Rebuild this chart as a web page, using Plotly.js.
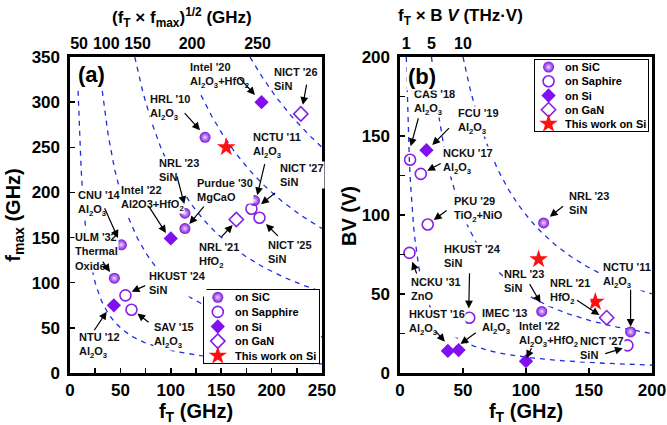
<!DOCTYPE html>
<html><head><meta charset="utf-8">
<script src="https://cdn.plot.ly/plotly-3.0.1.min.js"></script>
<style>html,body{margin:0;padding:0;background:#fff}#chart{width:667px;height:425px}</style>
</head><body><div id="chart"></div>
<script>
// ---------- Panel (a): fT vs fmax (GHz) ----------
const aSiC_names = ["HRL '10", "NRL '23", "Purdue '30", "NCTU '11", "CNU '14", "ULM '32"];
const aSiC_fT    = [134, 114, 114, 183, 51, 44];
const aSiC_fmax  = [261, 177, 160, 191, 142, 105];
const aSap_names = ["NICT '27", "NICT '25", "HKUST '24", "SAV '15"];
const aSap_fT    = [180, 188, 55, 61];
const aSap_fmax  = [182, 172, 86, 70];
const aSi_names  = ["Intel '20", "Intel '22", "NTU '12"];
const aSi_fT     = [190, 100, 43.5];
const aSi_fmax   = [300, 149, 75];
const aGaN_names = ["NICT '26", "NRL '21"];
const aGaN_fT    = [229, 165];
const aGaN_fmax  = [287, 170];
const aThis_fT   = [155];
const aThis_fmax = [250];
// iso-lines sqrt(fT*fmax) = const (GHz) and the fT where each drawn line begins
const aIso       = [50, 100, 150, 200, 250];
const aIsoStart  = [8, 32, 64.3, 130, 178.6];
const aTopTicks  = ['50', '100', '150', '200', '250'];
const aLegendNames = ['on SiC', 'on Sapphire', 'on Si', 'on GaN', 'This work on Si'];

// ---------- Panel (b): fT (GHz) vs BV (V) ----------
const bSiC_fT  = [114, 112.5, 183];
const bSiC_BV  = [95, 39, 26];
const bSap_fT  = [8, 16.5, 22, 7.5, 55, 180.5];
const bSap_BV  = [135, 126, 94, 76, 35, 17.5];
const bSi_fT   = [21, 38, 46.5, 100];
const bSi_BV   = [141, 14, 14.5, 7.5];
const bGaN_fT  = [164];
const bGaN_BV  = [35];
const bThis_fT = [110, 155];
const bThis_BV = [72, 45];
// iso-lines fT*BV = const (THz.V)
const bIso      = [1, 5, 10];
const bTopTicks = ['1', '5', '10'];
const bLegendNames = ['on SiC', 'on Saphire', 'on Si', 'on GaN', 'This work on Si'];

// ---------- styles ----------
const PURPLE = '#8420e8';
const FONT = 'Liberation Sans, Arial, sans-serif';
const BLUE = 'rgb(30,45,225)';

const M = {
  sic:  {symbol: 'circle', size: 11, color: '#7a12dc', gradient: {type: 'radial', color: '#ead6ff'}, line: {width: 0}},
  sap:  {symbol: 'circle-open', size: 11, color: PURPLE, line: {width: 1.6, color: PURPLE}},
  si:   {symbol: 'diamond', size: 11, color: '#8010ee', line: {width: 0}},
  gan:  {symbol: 'diamond-open', size: 11, color: PURPLE, line: {width: 1.6, color: PURPLE}},
  star: {symbol: 'star', size: 14, color: '#ff1010', line: {width: 0}}
};
const legendMarkers = [M.sic, M.sap, M.si, M.gan, M.star];

function isoCurve(c, start, end, xa, ya, f) {
  const xs = [], ys = [];
  const n = 240;
  for (let i = 0; i <= n; i++) {
    const x = start + (end - start) * i / n;
    xs.push(x); ys.push(f(c, x));
  }
  return {x: xs, y: ys, xaxis: xa, yaxis: ya, mode: 'lines', showlegend: false, hoverinfo: 'skip',
          line: {color: BLUE, width: 1.3, dash: '5px,5px'}};
}

const traces = [];
aIso.forEach((c, i) => traces.push(isoCurve(c, aIsoStart[i], 250, 'x', 'y', (k, x) => k * k / x)));
bIso.forEach((c) => traces.push(isoCurve(c, c * 1000 / 200, 200, 'x2', 'y2', (k, x) => k * 1000 / x)));

function pts(name, x, y, m, xa, ya) {
  return {x: x, y: y, name: name, xaxis: xa, yaxis: ya, mode: 'markers', marker: m, showlegend: false, hoverinfo: 'skip'};
}
traces.push(pts('on SiC', aSiC_fT, aSiC_fmax, M.sic, 'x', 'y'));
traces.push(pts('on Sapphire', aSap_fT, aSap_fmax, M.sap, 'x', 'y'));
traces.push(pts('on Si', aSi_fT, aSi_fmax, M.si, 'x', 'y'));
traces.push(pts('on GaN', aGaN_fT, aGaN_fmax, M.gan, 'x', 'y'));
traces.push(pts('This work on Si', aThis_fT, aThis_fmax, M.star, 'x', 'y'));

traces.push(pts('on SiC', bSiC_fT, bSiC_BV, M.sic, 'x2', 'y2'));
traces.push(pts('on Saphire', bSap_fT, bSap_BV, M.sap, 'x2', 'y2'));
traces.push(pts('on Si', bSi_fT, bSi_BV, M.si, 'x2', 'y2'));
traces.push(pts('on GaN', bGaN_fT, bGaN_BV, M.gan, 'x2', 'y2'));
traces.push(pts('This work on Si', bThis_fT, bThis_BV, M.star, 'x2', 'y2'));

// dummy traces so the top axes exist
traces.push({x: [null], y: [null], xaxis: 'x3', yaxis: 'y', showlegend: false, hoverinfo: 'skip', mode: 'markers'});
traces.push({x: [null], y: [null], xaxis: 'x4', yaxis: 'y2', showlegend: false, hoverinfo: 'skip', mode: 'markers'});

const annotations = [];

// compact legend boxes (one small framed subplot per panel): a symbol and a name per row
function legendBox(names, xa, ya) {
  names.forEach((nm, i) => {
    traces.push({x: [0.12], y: [names.length - 1 - i], xaxis: xa, yaxis: ya, mode: 'markers', name: nm,
      marker: legendMarkers[i], showlegend: false, hoverinfo: 'skip', cliponaxis: false});
    annotations.push({text: nm, x: 0.25, y: names.length - 1 - i, xref: xa, yref: ya, xanchor: 'left', yanchor: 'middle',
      showarrow: false, font: {family: FONT, size: 11, color: '#000', weight: 700}});
  });
}
legendBox(aLegendNames, 'x5', 'y5');
legendBox(bLegendNames, 'x6', 'y6');

// ---------- labels: [text, leftX, centerY, tailX, tailY, tipX, tipY] ----------
const A2O3 = 'Al<sub>2</sub>O<sub>3</sub>';
const aLabels = [
  ["Intel '20<br>" + A2O3 + '+HfO<sub>2</sub>', 118, 329, 167, 328, 183.5, 308],
  ["NICT '26<br>SiN", 201.4, 325.6, 235, 321, 231, 297],
  ["HRL '10<br>" + A2O3, 78.4, 294, 112.4, 289.4, 129, 269],
  ["NCTU '11<br>" + A2O3, 180.6, 251.5, 193.5, 233, 185.8, 197],
  ["NICT '27<br>SiN", 207.3, 219.5, 205, 200.8, 189.5, 187],
  ["NRL '23<br>SiN", 87.3, 224.8, 105.8, 219.3, 113.4, 187.2],
  ["Purdue '30<br>MgCaO", 125, 202.7, 134, 186, 118.4, 165],
  ["CNU '14<br>" + A2O3, 7, 188, 33.7, 184, 47.6, 149.5],
  ["Intel '22<br>Al2O3+HfO<sub>2</sub>", 49.6, 193, 77.4, 186, 95.2, 155],
  ["ULM '32<br>Thermal<br>Oxide", 3.5, 134.5, 31.4, 125, 39.7, 112],
  ["HKUST '24<br>SiN", 77.4, 100.2, 76.1, 97.5, 61.2, 90],
  ["SAV '15<br>" + A2O3, 82.3, 42, 79.4, 55, 66.8, 66],
  ["NTU '12<br>" + A2O3, 8, 31, 23.1, 45.7, 36.4, 67.9],
  ["NRL '21<br>HfO<sub>2</sub>", 127, 129.6, 148.8, 149.2, 161.4, 163.9],
  ["NICT '25<br>SiN", 195.4, 134, 207.7, 150.3, 194.4, 165]
];
const bLabels = [
  ["CAS '18<br>" + A2O3, 10.7, 170.9, 14.9, 162.2, 8.5, 143.5],
  ["FCU '19<br>" + A2O3, 45.4, 159.2, 40.1, 155.9, 25.6, 144.3],
  ["NCKU '17<br>" + A2O3, 33.5, 133.9, 33.5, 133.1, 21.6, 128],
  ["PKU '29<br>TiO<sub>2</sub>+NiO", 41.7, 103.2, 38.2, 103.6, 26.8, 96.8],
  ["NRL '23<br>SiN", 133, 107.6, 130.6, 106.3, 118.9, 98.9],
  ["NCKU '31<br>ZnO", 8.3, 53.2, 13.7, 62, 9.7, 70.4],
  ["HKUST '24<br>SiN", 34.5, 74, 55.2, 64.1, 54.6, 40.9],
  ["HKUST '16<br>" + A2O3, 6.7, 32, 27.6, 27.2, 35.6, 19.8],
  ["IMEC '13<br>" + A2O3, 63.9, 32.6, 61.3, 26.1, 48, 18.4],
  ["NRL '23<br>SiN", 82.1, 58.2, 102.2, 57.2, 111.5, 44.5],
  ["NRL '21<br>HfO<sub>2</sub>", 117.9, 51.6, 139.3, 46.6, 158.3, 36.7],
  ["Intel '22<br>" + A2O3 + '+HfO<sub>2</sub>', 94, 24.4, 104.9, 16.6, 100.4, 9.3],
  ["NCTU '11<br>" + A2O3, 160.7, 61.4, 183, 53.6, 183, 29.3],
  ["NICT '27<br>SiN", 141.7, 16.1, 161.7, 12, 176.8, 15.6]
];

function addLabels(list, xr, yr) {
  list.forEach(l => {
    annotations.push({text: l[0], x: l[1], y: l[2], xref: xr, yref: yr, xanchor: 'left', yanchor: 'middle',
      align: 'left', showarrow: false, bgcolor: 'white', borderpad: 0,
      font: {family: FONT, size: 11, color: '#111', weight: 700}});
  });
}
function addArrows(list, xr, yr) {
  list.forEach(l => {
    annotations.push({text: '', x: l[5], y: l[6], ax: l[3], ay: l[4], xref: xr, yref: yr, axref: xr, ayref: yr,
      showarrow: true, arrowhead: 2, arrowsize: 1.3, arrowwidth: 1.2, arrowcolor: '#000', standoff: 0, startstandoff: 0});
  });
}
addLabels(aLabels, 'x', 'y');
addLabels(bLabels, 'x2', 'y2');
annotations.push({text: '(a)', x: 6, y: 331, xref: 'x', yref: 'y', xanchor: 'left', yanchor: 'middle', showarrow: false,
  bgcolor: 'white', font: {family: FONT, size: 22, color: '#000', weight: 700}});
annotations.push({text: '(b)', x: 4.4, y: 187.5, xref: 'x2', yref: 'y2', xanchor: 'left', yanchor: 'middle', showarrow: false,
  bgcolor: 'white', font: {family: FONT, size: 22, color: '#000', weight: 700}});
addArrows(aLabels, 'x', 'y');
addArrows(bLabels, 'x2', 'y2');
annotations.push({text: '(f<sub>T</sub> × f<sub>max</sub>)<sup>1/2</sup> (GHz)', x: 0.273, y: 0.958, xref: 'paper', yref: 'paper',
  xanchor: 'center', yanchor: 'middle', showarrow: false, font: {family: FONT, size: 17, color: '#000', weight: 700}});
annotations.push({text: 'f<sub>T</sub> × B <i>V</i> (THz·V)', x: 0.690, y: 0.960, xref: 'paper', yref: 'paper',
  xanchor: 'center', yanchor: 'middle', showarrow: false, font: {family: FONT, size: 17, color: '#000', weight: 700}});
// y title of panel (b)
annotations.push({text: 'BV (V)', x: 349 / 667, y: (425 - 216) / 425, xref: 'paper', yref: 'paper', textangle: -90,
  xanchor: 'center', yanchor: 'middle', showarrow: false, font: {family: FONT, size: 20, color: '#000', weight: 700}});

const tickFont = {family: FONT, size: 17, color: '#000', weight: 700};
const titleFont = {family: FONT, size: 20, color: '#000', weight: 700};
const DOMY = [52 / 425, 368 / 425];
const minorTicks = {dtick: 25, ticks: 'inside', ticklen: 5, tickwidth: 1.5, tickcolor: '#000'};
function baseAxis(extra) {
  return Object.assign({showline: true, mirror: true, linecolor: '#000', linewidth: 2.6, showgrid: false, zeroline: false,
    ticks: 'inside', ticklen: 5, tickwidth: 1.5, tickcolor: '#000', tickfont: tickFont, fixedrange: true}, extra);
}
function legendAxis(domain, range) {
  return {domain: domain, range: range, showline: true, mirror: true, linecolor: '#000', linewidth: 1,
    showgrid: false, zeroline: false, showticklabels: false, ticks: '', fixedrange: true};
}

const layout = {
  width: 667, height: 425, margin: {l: 0, r: 0, t: 0, b: 0},
  paper_bgcolor: '#fff', plot_bgcolor: '#fff', showlegend: false,
  xaxis: baseAxis({domain: [70 / 667, 322 / 667], range: [0, 250], dtick: 50, anchor: 'y',
    minor: minorTicks, ticklabelstandoff: 0,
    title: {text: 'f<sub>T</sub> (GHz)', font: titleFont, standoff: 12}}),
  yaxis: baseAxis({domain: DOMY, range: [0, 350], dtick: 50, anchor: 'x', ticklabelstandoff: 4,
    title: {text: 'f<sub>max</sub> (GHz)', font: titleFont, standoff: 6}}),
  xaxis2: baseAxis({domain: [400 / 667, 652 / 667], range: [0, 200], dtick: 50, anchor: 'y2', ticklabelstandoff: 0,
    title: {text: 'f<sub>T</sub> (GHz)', font: titleFont, standoff: 12}}),
  yaxis2: baseAxis({domain: DOMY, range: [0, 200], dtick: 50, anchor: 'x2', ticklabelstandoff: 4,
    minor: minorTicks}),
  xaxis3: {overlaying: 'x', side: 'top', anchor: 'y', range: [0, 250], showgrid: false, zeroline: false, showline: false,
    ticks: '', tickmode: 'array', tickvals: [9, 36, 67, 121, 186], ticktext: aTopTicks, ticklabelstandoff: 4,
    tickfont: {family: FONT, size: 16, color: '#000', weight: 700}, fixedrange: true},
  xaxis4: {overlaying: 'x2', side: 'top', anchor: 'y2', range: [0, 200], showgrid: false, zeroline: false, showline: false,
    ticks: '', tickmode: 'array', tickvals: bIso.map(c => c * 1000 / 200), ticktext: bTopTicks, ticklabelstandoff: 4,
    tickfont: {family: FONT, size: 16, color: '#000', weight: 700}, fixedrange: true},
  xaxis5: Object.assign(legendAxis([204 / 667, 319 / 667], [0, 1]), {anchor: 'y5'}),
  yaxis5: Object.assign(legendAxis([(425 - 363) / 425, (425 - 290) / 425], [-0.5, 4.5]), {anchor: 'x5'}),
  xaxis6: Object.assign(legendAxis([535 / 667, 648 / 667], [0, 1]), {anchor: 'y6'}),
  yaxis6: Object.assign(legendAxis([(425 - 131) / 425, (425 - 60) / 425], [-0.5, 4.5]), {anchor: 'x6'}),
  annotations: annotations
};

Plotly.newPlot('chart', traces, layout, {staticPlot: true, displayModeBar: false});
</script>
</body></html>
